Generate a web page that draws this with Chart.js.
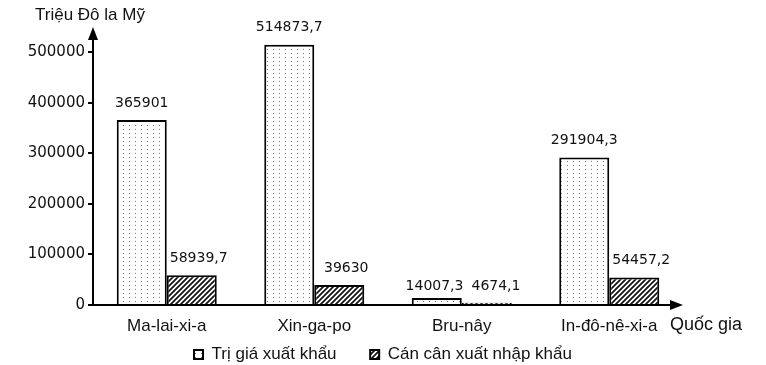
<!DOCTYPE html>
<html>
<head>
<meta charset="utf-8">
<script src="https://cdn.jsdelivr.net/npm/chart.js@4.4.1/dist/chart.umd.min.js"></script>
<style>
  body { margin: 0; background: #fff; }
  #wrap { width: 766px; height: 365px; }
</style>
</head>
<body>
<div id="wrap"><canvas id="chart"></canvas></div>
<script>
const countries = ["Ma-lai-xi-a", "Xin-ga-po", "Bru-nây", "In-đô-nê-xi-a"];
const exportValue = [365901, 514873.7, 14007.3, 291904.3];
const tradeBalance = [58939.7, 39630, 4674.1, 54457.2];
const yTicks = [0, 100000, 200000, 300000, 400000, 500000];

// dotted fill for export value
function dotPattern() {
  const c = document.createElement("canvas");
  c.width = 6; c.height = 4;
  const g = c.getContext("2d");
  g.fillStyle = "#fff";
  g.fillRect(0, 0, 6, 4);
  g.fillStyle = "#777";
  g.fillRect(3, 1, 1, 1);
  return g.createPattern(c, "repeat");
}

// diagonal hatch for trade balance
function hatchPattern() {
  const c = document.createElement("canvas");
  c.width = 5; c.height = 5;
  const g = c.getContext("2d");
  g.fillStyle = "#fff";
  g.fillRect(0, 0, 5, 5);
  g.strokeStyle = "#111";
  g.lineWidth = 1.7;
  g.beginPath();
  g.moveTo(-1, 6); g.lineTo(6, -1);
  g.moveTo(-1, 1); g.lineTo(1, -1);
  g.moveTo(4, 6); g.lineTo(6, 4);
  g.stroke();
  return g.createPattern(c, "repeat");
}

const fmt = v => String(v).replace(".", ",");

const extras = {
  id: "extras",
  afterInit(chart) {
    // keep the legend band short so it sits right at the bottom
    const lg = chart.legend;
    const fit = lg.fit.bind(lg);
    lg.fit = function () { fit(); this.height = 29; };
  },
  afterLayout(chart) {
    // centre the legend on the full page width, not the padded area
    const lg = chart.legend;
    lg.right = chart.width;
    lg.width = lg.right - lg.left;
  },
  afterDatasetsDraw(chart) {
    const ctx = chart.ctx;
    ctx.save();
    ctx.font = "14px 'DejaVu Sans'";
    ctx.fillStyle = "#111";
    ctx.textAlign = "center";
    ctx.textBaseline = "bottom";
    const m0 = chart.getDatasetMeta(0).data;
    const m1 = chart.getDatasetMeta(1).data;
    m0.forEach((bar, i) => {
      const t0 = fmt(exportValue[i]), t1 = fmt(tradeBalance[i]);
      let x0 = bar.x, x1 = m1[i].x + 7;
      let y0 = bar.y - 10, y1 = m1[i].y - 10;
      const w0 = ctx.measureText(t0).width, w1 = ctx.measureText(t1).width;
      // labels at about the same height that would touch: push apart
      if (Math.abs(y0 - y1) < 16) {
        const overlap = (x0 + w0 / 2 + 8) - (x1 - w1 / 2);
        if (overlap > 0) { x0 -= overlap / 2; x1 += overlap / 2; }
        y0 = y1 = Math.min(y0, y1) + 5;
      }
      ctx.fillText(t0, x0, y0);
      ctx.fillText(t1, x1, y1);
    });
    ctx.restore();
  },
  afterDraw(chart) {
    const ctx = chart.ctx;
    const a = chart.chartArea;
    ctx.save();
    ctx.strokeStyle = "#000";
    ctx.fillStyle = "#000";
    ctx.lineWidth = 2;
    // axes with arrow heads
    ctx.beginPath();
    ctx.moveTo(a.left, a.bottom);
    ctx.lineTo(a.left, a.top + 8);
    ctx.moveTo(a.left - 1, a.bottom);
    ctx.lineTo(a.right - 8, a.bottom);
    ctx.stroke();
    ctx.beginPath();
    ctx.moveTo(a.left, a.top);
    ctx.lineTo(a.left - 5, a.top + 13);
    ctx.lineTo(a.left + 5, a.top + 13);
    ctx.closePath();
    ctx.fill();
    ctx.beginPath();
    ctx.moveTo(a.right, a.bottom);
    ctx.lineTo(a.right - 13, a.bottom - 5);
    ctx.lineTo(a.right - 13, a.bottom + 5);
    ctx.closePath();
    ctx.fill();
    // axis titles
    ctx.fillStyle = "#111";
    ctx.font = "17px 'Liberation Sans'";
    ctx.textBaseline = "middle";
    ctx.textAlign = "left";
    ctx.fillText("Triệu Đô la Mỹ", 35, 15);
    ctx.font = "18px 'Liberation Sans'";
    ctx.fillText("Quốc gia", a.right - 13, 325);
    ctx.restore();
  }
};

new Chart(document.getElementById("chart").getContext("2d"), {
  type: "bar",
  data: {
    labels: countries,
    datasets: [
      {
        label: "Trị giá xuất khẩu",
        data: exportValue,
        backgroundColor: dotPattern(),
        borderColor: "#000",
        borderWidth: 2
      },
      {
        label: "Cán cân xuất nhập khẩu",
        data: tradeBalance,
        backgroundColor: hatchPattern(),
        borderColor: "#000",
        borderWidth: 2
      }
    ]
  },
  options: {
    responsive: true,
    maintainAspectRatio: false,
    animation: false,
    layout: { padding: { top: 27, right: 83, left: 0, bottom: 0 } },
    datasets: { bar: { categoryPercentage: 0.678, barPercentage: 1 } },
    plugins: {
      legend: {
        position: "bottom",
        labels: {
          boxWidth: 9,
          boxHeight: 9,
          padding: 10,
          color: "#111",
          font: { family: "'Liberation Sans'", size: 17 },
          generateLabels(chart) {
            const items = Chart.defaults.plugins.legend.labels.generateLabels(chart);
            items[0].text += "     ";
            items.forEach(it => { it.lineWidth = 2; });
            return items;
          }
        }
      },
      tooltip: { enabled: false }
    },
    scales: {
      x: {
        grid: { display: false, drawTicks: false },
        border: { display: false },
        ticks: {
          padding: 11,
          color: "#111",
          font: { family: "'Liberation Sans'", size: 17 }
        },
        afterFit(s) { s.height = 31; }
      },
      y: {
        min: 0,
        max: 550000,
        afterBuildTicks(s) {
          s.ticks = yTicks.map(v => ({ value: v }));
        },
        grid: {
          drawOnChartArea: false,
          drawTicks: true,
          tickLength: 5,
          color: "#000",
          lineWidth: 2
        },
        border: { display: false },
        ticks: {
          padding: 3,
          color: "#111",
          font: { family: "'DejaVu Sans'", size: 15 },
          callback: v => String(v)
        },
        afterFit(s) { s.width = 93; }
      }
    }
  },
  plugins: [extras]
});
</script>
</body>
</html>
